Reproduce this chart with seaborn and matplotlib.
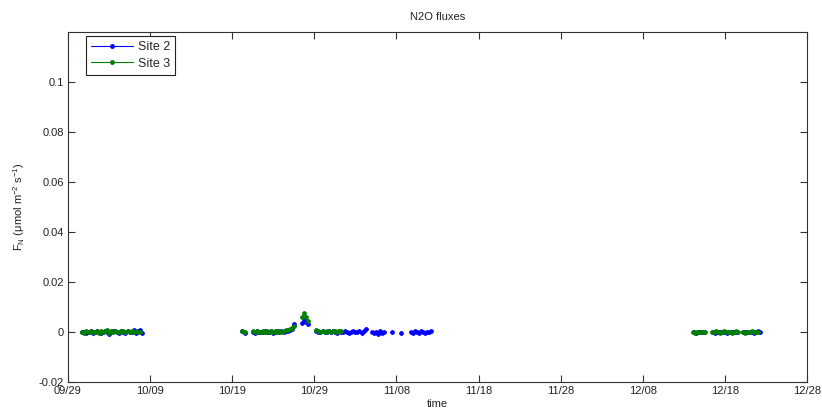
import matplotlib
matplotlib.use("Agg")
import numpy as np
import pandas as pd
import seaborn as sns
import matplotlib.pyplot as plt
from matplotlib.lines import Line2D

# ---------------- data (flux values in 1e-3 umol m-2 s-1, 6-hourly samples) -------------
SCALE = 1e-3
STEP = "6h"

# Site 2
s2_oct_a_start = "2012-09-30 18:00"
s2_oct_a = [0.2, 0.0, -0.3, 0.1, 0.3, -0.2, 0.0, 0.4, 0.1, -0.4, 0.2, 0.5, -0.1, -0.8, 0.0,
            0.3, 0.6, 0.1, -0.2, 0.4, 0.2, -0.3, 0.5, 0.1, 0.0, 0.7, -0.5, 0.3, 0.8, -0.2]
s2_oct_b_start = "2012-10-20 06:00"
s2_oct_b = [0.3, -0.4]
s2_oct_c_start = "2012-10-21 12:00"
s2_oct_c = [0.1, -0.2, 0.3, 0.0, 0.2, -0.1, 0.4, 0.1, 0.0, 0.3, -0.2, 0.2, 0.5, 0.1,
            0.3, 0.0, 0.4, 0.6, 0.8, 1.2, 3.2]
s2_spike_start = "2012-10-27 12:00"
s2_spike = [3.5, 5.2, 3.9, 3.1]
s2_nov_a_start = "2012-10-29 06:00"
s2_nov_a = [0.4, 0.2, -0.1, 0.3, 0.1, 0.2, 0.5, 0.0, 0.3, 0.1, -0.2, 0.4, 0.2, 0.0, 0.3,
            0.1, -0.3, 0.2, 0.4, 0.0, 0.1, 0.3, -0.2, 0.5, 1.1]
s2_nov_b_start = "2012-11-05 00:00"
s2_nov_b = [0.2, -0.4, 0.1, -0.6, 0.3, -0.2, 0.0]
s2_nov_c_start = "2012-11-07 12:00"
s2_nov_c = [0.2]
s2_nov_d_start = "2012-11-08 12:00"
s2_nov_d = [-0.5]
s2_nov_e_start = "2012-11-09 18:00"
s2_nov_e = [0.1, -0.3, 0.4, 0.0, -0.2, 0.3, 0.1, -0.4, 0.2, 0.0, 0.3]
s2_dec_a_start = "2012-12-14 06:00"
s2_dec_a = [0.0, -0.2, 0.1, 0.2, -0.1, 0.0]
s2_dec_b_start = "2012-12-16 12:00"
s2_dec_b = [0.1, -0.2, 0.0, 0.2, -0.1, 0.1, 0.0, -0.3, 0.2, 0.1, -0.1, 0.0, 0.2]
s2_dec_c_start = "2012-12-20 06:00"
s2_dec_c = [0.0, 0.2, -0.1, 0.1, 0.0, -0.2, 0.1, 0.3, 0.0]

# Site 3
s3_oct_a_start = "2012-09-30 18:00"
s3_oct_a = [0.1, -0.2, 0.3, 0.0, 0.5, -0.1, 0.2, 0.4, -0.3, 0.6, 0.0, 0.3, 0.7, -0.2, 0.4,
            0.1, 0.5, 0.2, -0.1, 0.6, 0.3, 0.0, 0.4, 0.2, 0.5, -0.1, 0.3, 0.1, 0.2]
s3_oct_b_start = "2012-10-20 06:00"
s3_oct_b = [0.4, 0.0]
s3_oct_c_start = "2012-10-21 12:00"
s3_oct_c = [0.3, 0.1, 0.5, 0.2, 0.0, 0.4, 0.2, 0.6, 0.1, 0.3, 0.0, 0.4, 0.2, 0.5,
            0.1, 0.4, 0.7, 0.9, 1.2, 1.6, 2.4]
s3_spike_start = "2012-10-27 12:00"
s3_spike = [6.0, 7.6, 6.2, 4.4]
s3_nov_a_start = "2012-10-29 06:00"
s3_nov_a = [1.0, 0.5, 0.2, 0.4, 0.1, 0.3, 0.6, 0.2, 0.4, 0.5, 0.1, 0.3, 0.6]
s3_dec_a_start = "2012-12-14 03:00"
s3_dec_a = [0.1, -0.2, 0.2, 0.0, -0.1, 0.2, 0.0]
s3_dec_b_start = "2012-12-16 09:00"
s3_dec_b = [0.2, -0.1, 0.3, 0.0, -0.2, 0.1, 0.3, -0.1, 0.0, 0.2, -0.2, 0.1, 0.3, 0.0]
s3_dec_c_start = "2012-12-20 06:00"
s3_dec_c = [0.1, -0.2, 0.2, 0.0, 0.3, -0.1, 0.1, 0.0]

site_labels = ["Site 2", "Site 3"]
site_colors = ["#0000ff", "#008000"]
x_tick_labels = ["09/29", "10/09", "10/19", "10/29", "11/08", "11/18",
                 "11/28", "12/08", "12/18", "12/28"]
y_ticks = [-0.02, 0, 0.02, 0.04, 0.06, 0.08, 0.1]
y_tick_labels = ["-0.02", "0", "0.02", "0.04", "0.06", "0.08", "0.1"]

segments = {
    "Site 2": [(s2_oct_a_start, s2_oct_a), (s2_oct_b_start, s2_oct_b), (s2_oct_c_start, s2_oct_c),
               (s2_spike_start, s2_spike), (s2_nov_a_start, s2_nov_a), (s2_nov_b_start, s2_nov_b),
               (s2_nov_c_start, s2_nov_c), (s2_nov_d_start, s2_nov_d), (s2_nov_e_start, s2_nov_e),
               (s2_dec_a_start, s2_dec_a), (s2_dec_b_start, s2_dec_b), (s2_dec_c_start, s2_dec_c)],
    "Site 3": [(s3_oct_a_start, s3_oct_a), (s3_oct_b_start, s3_oct_b), (s3_oct_c_start, s3_oct_c),
               (s3_spike_start, s3_spike), (s3_nov_a_start, s3_nov_a),
               (s3_dec_a_start, s3_dec_a), (s3_dec_b_start, s3_dec_b), (s3_dec_c_start, s3_dec_c)],
}

rows = []
seg_id = 0
for site in site_labels:
    for start, vals in segments[site]:
        times = pd.date_range(start, periods=len(vals), freq=STEP)
        for t, v in zip(times, vals):
            rows.append({"time": t, "flux": v * SCALE, "site": site, "seg": seg_id})
        seg_id += 1
df = pd.DataFrame(rows)

# ---------------- plot ----------------
sns.set_style("white")
plt.rcParams["font.family"] = ["Liberation Sans", "DejaVu Sans"]
plt.rcParams["mathtext.fontset"] = "custom"
plt.rcParams["mathtext.rm"] = "Liberation Sans"
plt.rcParams["mathtext.it"] = "Liberation Sans"

fig = plt.figure(figsize=(8.22, 4.13), dpi=100)
ax = fig.add_axes([68 / 822, 1 - 382 / 413, (807 - 68) / 822, (382 - 32) / 413])

for site, color in zip(site_labels, site_colors):
    sub = df[df["site"] == site]
    sns.lineplot(data=sub, x="time", y="flux", units="seg", estimator=None, sort=False,
                 color=color, marker=".", markersize=5.5, markeredgewidth=0.6,
                 markeredgecolor=color, linewidth=0.8, ax=ax, legend=False)

x0 = pd.Timestamp("2012-09-29")
tick_dates = [x0 + pd.Timedelta(days=10 * i) for i in range(len(x_tick_labels))]
ax.set_xlim(tick_dates[0], tick_dates[-1])
ax.set_xticks(tick_dates)
ax.set_xticklabels(x_tick_labels)
ax.set_ylim(-0.02, 0.12)
ax.set_yticks(y_ticks)
ax.set_yticklabels(y_tick_labels)

for sp in ax.spines.values():
    sp.set_visible(True)
    sp.set_color("#333333")
    sp.set_linewidth(0.8)
ax.tick_params(direction="in", length=5, width=0.8, colors="#333333", labelsize=8,
               labelcolor="#222222", top=True, right=True, bottom=True, left=True, pad=3)

ax.set_title("N2O fluxes", fontsize=8, pad=9, color="#222222")
ax.set_xlabel("time", fontsize=8, labelpad=2, color="#222222")
ax.set_ylabel(r"F$_\mathrm{N}$ ($\mu$mol m$^{-2}$ s$^{-1}$)", fontsize=8, labelpad=8, color="#222222")

handles = [Line2D([0], [0], color=c, marker=".", markersize=5, linewidth=0.8, label=l)
           for l, c in zip(site_labels, site_colors)]
leg = ax.legend(handles=handles, loc="upper left", bbox_to_anchor=(0.024, 0.989),
                fontsize=9, frameon=True, fancybox=False, framealpha=1,
                edgecolor="#222222", handlelength=3.3, borderpad=0.45, labelspacing=0.35,
                handletextpad=0.4, borderaxespad=0)
leg.get_frame().set_linewidth(0.8)

fig.savefig("out.png", dpi=100)
